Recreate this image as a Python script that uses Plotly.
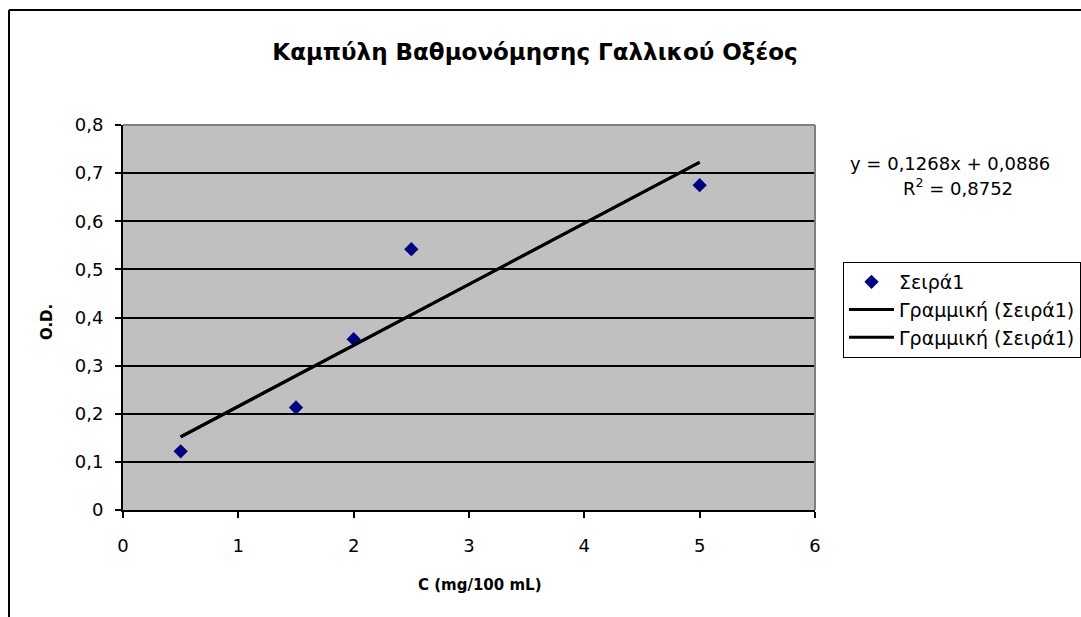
import plotly.graph_objects as go

conc = [0.5, 1.5, 2, 2.5, 5]
od = [0.122, 0.213, 0.355, 0.542, 0.675]
slope = 0.1268
intercept = 0.0886
trend_x = [min(conc), max(conc)]
trend_y = [slope * v + intercept for v in trend_x]

title = "Καμπύλη Βαθμονόμησης Γαλλικού Οξέος"
x_title = "C (mg/100 mL)"
y_title = "O.D."
series_name = "Σειρά1"
trend_name = "Γραμμική (Σειρά1)"
y_ticks = [0, 0.1, 0.2, 0.3, 0.4, 0.5, 0.6, 0.7, 0.8]
y_ticklabels = ["0", "0,1", "0,2", "0,3", "0,4", "0,5", "0,6", "0,7", "0,8"]

FONT = "DejaVu Sans"

fig = go.Figure()
fig.add_trace(go.Scatter(x=conc, y=od, mode="markers", name=series_name,
                         marker=dict(symbol="diamond", size=11, color="#000080")))
fig.add_trace(go.Scatter(x=trend_x, y=trend_y, mode="lines", name=trend_name,
                         line=dict(color="black", width=3)))
fig.add_trace(go.Scatter(x=trend_x, y=trend_y, mode="lines", name=trend_name,
                         line=dict(color="black", width=3)))

fig.update_layout(
    width=1081, height=617,
    margin=dict(l=123, r=266, t=125, b=107, autoexpand=False),
    paper_bgcolor="white", plot_bgcolor="#C0C0C0",
    font=dict(family=FONT, size=18, color="black"),
    title=dict(text="<b>" + title + "</b>", x=535/1081, xanchor="center",
               y=1 - 52/617, yanchor="middle", font=dict(size=23, family=FONT)),
    xaxis=dict(range=[0, 6], dtick=1, showgrid=False, zeroline=False,
               showline=True, linecolor="black", linewidth=2, automargin=False,
               ticks="outside", ticklen=6, tickwidth=1.5, tickcolor="black",
               ticklabelstandoff=12),
    yaxis=dict(range=[0, 0.8], tickvals=y_ticks, ticktext=y_ticklabels,
               showgrid=True, gridcolor="black", gridwidth=1.5, automargin=False,
               zeroline=False, showline=True, linecolor="black", linewidth=2,
               ticks="outside", ticklen=6, tickwidth=1.5, tickcolor="black",
               ticklabelstandoff=8),
    legend=dict(x=(843-123)/692, xanchor="left", y=(510-262)/385, yanchor="top",
                bgcolor="white", bordercolor="black", borderwidth=1,
                font=dict(size=19, family=FONT), itemwidth=45, tracegroupgap=0),
    showlegend=True,
)

# axis titles
fig.add_annotation(xref="paper", yref="paper", x=(480-123)/692, y=(510-585)/385,
                   text="<b>" + x_title + "</b>", showarrow=False,
                   font=dict(size=15, family=FONT), xanchor="center", yanchor="middle")
fig.add_annotation(xref="paper", yref="paper", x=(47-123)/692, y=(510-322)/385,
                   text="<b>" + y_title + "</b>", showarrow=False, textangle=-90,
                   font=dict(size=15, family=FONT), xanchor="center", yanchor="middle")

# gray top/right border of plot area
fig.add_shape(type="line", xref="paper", yref="paper", x0=0, x1=1, y0=1, y1=1,
              line=dict(color="#808080", width=2), layer="above")
fig.add_shape(type="line", xref="paper", yref="paper", x0=1, x1=1, y0=0, y1=1,
              line=dict(color="#808080", width=2), layer="above")

# outer chart frame (top and left visible)
x_left = (9 - 123) / 692
y_top = (510 - 10) / 385
fig.add_shape(type="line", xref="paper", yref="paper", x0=x_left, x1=1.5, y0=y_top, y1=y_top,
              line=dict(color="black", width=2))
fig.add_shape(type="line", xref="paper", yref="paper", x0=x_left, x1=x_left, y0=-0.5, y1=y_top,
              line=dict(color="black", width=2))

fig.add_annotation(xref="paper", yref="paper", x=(950-123)/692, y=(510-163)/385,
                   text="y = 0,1268x + 0,0886", showarrow=False,
                   font=dict(size=18, family=FONT), xanchor="center", yanchor="middle")
fig.add_annotation(xref="paper", yref="paper", x=(958-123)/692, y=(510-187)/385,
                   text="R<sup>2</sup> = 0,8752", showarrow=False,
                   font=dict(size=18, family=FONT), xanchor="center", yanchor="middle")

fig.write_html("out.html")
